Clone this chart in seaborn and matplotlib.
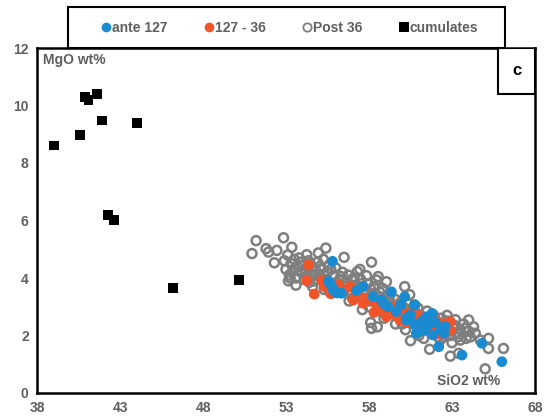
import numpy as np
import pandas as pd
import matplotlib
matplotlib.use('Agg')
import matplotlib.pyplot as plt
from matplotlib.patches import Rectangle
from matplotlib.lines import Line2D
import seaborn as sns

sns.set_style('white')
plt.rcParams['font.family'] = ['Liberation Sans', 'DejaVu Sans']

# ------------------------------------------------------------
# data (SiO2 wt%, MgO wt%)
# ------------------------------------------------------------
cum_sio2 = [39.0, 40.6, 40.9, 41.1, 41.6, 41.9, 44.0, 42.3, 42.65, 46.2, 50.15]
cum_mgo = [8.61, 8.96, 10.29, 10.2, 10.41, 9.48, 9.4, 6.18, 6.03, 3.66, 3.94]

post_sio2 = [50.95, 51.2, 51.8, 51.95, 52.3, 52.45, 52.85, 53.35, 53.15, 54.25, 54.95, 55.4,
             56.5, 58.15, 57.3, 57.85, 58.55, 59.05, 58.45, 58.8, 57.45, 58.1, 58.5, 58.15,
             60.15, 60.45, 60.75, 60.5, 61.65, 62.9, 63.4, 63.5, 64.0, 64.4, 64.7, 65.2,
             65.2, 66.1, 65.0, 62.7,
             52.9, 53.0, 53.1, 53.2, 53.3, 53.4, 53.5, 53.6, 53.7, 53.8, 53.9, 54.0, 54.1,
             54.2, 54.35, 54.5, 54.6, 54.7, 54.8, 54.9, 55.0, 55.1, 55.25, 55.4, 55.5, 55.6,
             55.75, 55.9, 56.0, 56.1, 56.25, 56.4, 56.5, 56.6, 56.75, 56.9, 57.0, 57.1,
             57.25, 57.4, 57.5, 57.65, 57.8, 57.9, 58.05, 58.2, 58.3, 58.45, 58.6, 58.7,
             58.85, 59.0, 59.1, 59.25, 59.4, 59.5, 59.6, 59.75, 59.9, 60.0, 60.15, 60.3,
             60.4, 60.55, 60.7, 60.85, 60.95, 61.1, 61.25, 61.4, 61.5, 61.65, 61.8, 61.9,
             62.05, 62.2, 62.35, 62.5, 62.6, 62.75, 62.9, 63.05, 63.2, 63.35, 63.5, 63.7,
             63.85, 64.0, 64.3, 61.0, 59.6, 58.9, 57.6, 56.8, 55.6, 54.6, 63.0, 62.3,
             61.3, 60.2,
             53.25, 53.55, 53.85, 54.15, 54.45, 54.75, 55.05, 55.35, 55.7, 56.05, 56.3, 56.6,
             56.95, 57.2, 57.55, 57.85, 58.1, 58.4, 58.65, 58.95, 59.2, 59.45, 59.7, 60.05,
             60.35, 60.65, 60.9, 61.2, 61.45, 61.75, 62.0, 62.25, 62.55, 62.85, 63.15, 63.45,
             63.75, 64.1, 57.0, 58.0, 59.0, 60.0, 61.15, 62.15, 56.2, 55.3, 54.4, 53.6]
post_mgo = [4.85, 5.3, 5.02, 4.9, 4.53, 4.96, 5.4, 5.07, 3.9, 4.81, 4.87, 5.04,
            4.72, 4.55, 4.22, 4.08, 4.05, 3.87, 3.93, 3.64, 4.3, 2.45, 2.3, 2.25,
            3.7, 3.42, 3.06, 1.82, 1.52, 1.28, 1.38, 1.84, 2.54, 2.08, 1.84, 1.55,
            1.9, 1.55, 0.84, 2.7,
            4.6, 4.3, 4.8, 4.1, 4.5, 4.25, 4.65, 4.0, 4.4, 4.7, 4.2, 4.45, 3.95,
            4.3, 4.6, 4.15, 4.4, 3.9, 4.25, 4.55, 4.05, 4.3, 4.65, 3.95, 4.2, 4.45,
            3.8, 4.1, 4.35, 3.65, 3.95, 4.2, 3.6, 3.85, 4.1, 3.5, 3.75, 4.0,
            3.4, 3.7, 3.95, 3.3, 3.55, 3.8, 3.2, 3.45, 3.7, 3.1, 3.35, 2.85,
            3.55, 3.2, 2.95, 3.4, 3.05, 2.75, 3.25, 2.9, 3.15, 2.6, 2.95, 2.7,
            3.1, 2.45, 2.8, 2.55, 2.95, 2.3, 2.65, 2.45, 2.85, 2.2, 2.5, 2.7,
            2.1, 2.4, 2.6, 1.95, 2.25, 2.5, 2.0, 2.3, 2.55, 1.95, 2.2, 2.4,
            1.9, 2.15, 2.3, 2.0, 2.4, 2.6, 2.9, 3.2, 3.55, 3.7, 1.75, 1.85,
            1.9, 2.2,
            4.0, 4.35, 4.55, 4.15, 4.5, 4.1, 4.4, 4.1, 4.3, 3.85, 4.05, 3.7,
            3.95, 3.6, 3.8, 3.45, 3.6, 3.25, 3.5, 3.0, 3.25, 2.9, 3.05, 2.8,
            2.9, 2.6, 2.75, 2.45, 2.6, 2.35, 2.55, 2.3, 2.45, 2.15, 2.35, 2.05,
            2.25, 1.95, 3.3, 3.0, 2.75, 2.4, 2.15, 1.95, 3.5, 3.6, 3.85, 3.75]

mid_sio2 = [54.35, 54.25, 54.7, 55.15, 55.3, 55.25, 56.15, 56.85, 57.05, 57.65, 58.15, 59.55,
            59.85, 60.55, 59.05, 60.05, 60.65, 62.1, 62.9, 62.9, 61.15, 56.5, 57.3, 58.5,
            58.8, 59.3, 60.3, 61.5, 61.9, 62.5, 61.0, 57.9, 56.0, 55.7, 60.9, 62.3,
            59.6, 58.3]
mid_mgo = [4.46, 3.91, 3.44, 3.91, 3.71, 3.87, 3.76, 3.7, 3.23, 3.12, 3.23, 3.0,
           2.54, 2.77, 2.65, 2.83, 2.6, 2.48, 2.48, 2.19, 2.42, 3.55, 3.45, 3.0,
           2.85, 2.9, 2.45, 2.35, 2.25, 2.4, 2.7, 3.3, 3.6, 3.45, 2.5, 2.05,
           2.7, 2.8]

ante_sio2 = [55.8, 55.55, 55.75, 56.05, 55.65, 55.85, 56.35, 57.25, 57.65, 58.25, 58.75, 59.35,
             60.15, 59.15, 59.65, 60.25, 60.75, 60.75, 60.25, 60.85, 61.45, 61.8, 61.35, 61.85,
             62.5, 62.6, 62.2, 63.6, 64.8, 66.0, 61.2, 61.6, 62.0, 60.5, 61.0, 62.3,
             59.9, 58.9]
ante_mgo = [4.58, 3.89, 3.71, 3.48, 3.82, 3.58, 3.47, 3.56, 3.7, 3.35, 3.23, 3.52,
            3.35, 3.0, 2.83, 2.6, 2.37, 3.06, 2.54, 2.08, 2.65, 2.77, 2.19, 2.02,
            2.08, 2.31, 1.61, 1.32, 1.73, 1.09, 2.5, 2.4, 2.45, 2.7, 2.3, 2.2,
            3.05, 3.1]

legend_labels = ['ante 127', '127 - 36', 'Post 36', 'cumulates']

BLUE = '#1a8bd0'
ORANGE = '#f0552a'
GREY = '#7f7f7f'
TXT = '#5f5f5f'

df_post = pd.DataFrame({'SiO2': post_sio2, 'MgO': post_mgo})
df_mid = pd.DataFrame({'SiO2': mid_sio2, 'MgO': mid_mgo})
df_ante = pd.DataFrame({'SiO2': ante_sio2, 'MgO': ante_mgo})
df_cum = pd.DataFrame({'SiO2': cum_sio2, 'MgO': cum_mgo})

fig = plt.figure(figsize=(5.47, 4.18), dpi=100)
ax = fig.add_axes([37 / 547, 25 / 418, 498 / 547, 345 / 418])

sns.scatterplot(data=df_post, x='SiO2', y='MgO', ax=ax, marker='o', s=42,
                facecolor='none', edgecolor=GREY, linewidth=1.8, zorder=2)
sns.scatterplot(data=df_mid, x='SiO2', y='MgO', ax=ax, marker='o', s=60,
                color=ORANGE, edgecolor='none', zorder=3)
sns.scatterplot(data=df_ante, x='SiO2', y='MgO', ax=ax, marker='o', s=60,
                color=BLUE, edgecolor='none', zorder=4)
sns.scatterplot(data=df_cum, x='SiO2', y='MgO', ax=ax, marker='s', s=50,
                color='black', edgecolor='none', zorder=5)

ax.set_xlim(38, 68)
ax.set_ylim(0, 12)
ax.set_xticks(np.arange(38, 69, 5))
ax.set_yticks(np.arange(0, 13, 2))
ax.set_xlabel('')
ax.set_ylabel('')
ax.tick_params(axis='both', length=0, labelsize=10, labelcolor=TXT, pad=6)
for lab in ax.get_xticklabels() + ax.get_yticklabels():
    lab.set_fontweight('bold')
for sp in ax.spines.values():
    sp.set_visible(True)
    sp.set_color('black')
    sp.set_linewidth(1.8)

ax.text(0.012, 0.985, 'MgO wt%', transform=ax.transAxes, ha='left', va='top',
        fontsize=10, fontweight='bold', color=TXT)
ax.text(0.93, 0.015, 'SiO2 wt%', transform=ax.transAxes, ha='right', va='bottom',
        fontsize=10, fontweight='bold', color=TXT)

# panel letter box
ax.add_patch(Rectangle((0.926, 0.868), 0.074, 0.132, transform=ax.transAxes,
                       facecolor='white', edgecolor='black', linewidth=1.5, zorder=6))
ax.text(0.963, 0.934, 'c', transform=ax.transAxes, ha='center', va='center',
        fontsize=12, fontweight='bold', color='black', zorder=7)

# legend: frame drawn separately so it can be wider than its content
fig.patches.append(Rectangle((68 / 547, 1 - 48 / 418), 437 / 547, 41 / 418,
                             transform=fig.transFigure, facecolor='white',
                             edgecolor='black', linewidth=1.5))
handles = [
    Line2D([], [], marker='o', ls='', color=BLUE, markersize=7, markeredgewidth=0),
    Line2D([], [], marker='o', ls='', color=ORANGE, markersize=7, markeredgewidth=0),
    Line2D([], [], marker='o', ls='', markerfacecolor='none', markeredgecolor=GREY,
           markersize=6, markeredgewidth=1.3),
    Line2D([], [], marker='s', ls='', color='black', markersize=6.5, markeredgewidth=0),
]
leg = fig.legend(handles, legend_labels,
                 loc='center', bbox_to_anchor=(290 / 547, 1 - 27.5 / 418), ncol=4,
                 frameon=False, handlelength=0.6, handletextpad=0.1,
                 columnspacing=2.7,
                 prop={'family': 'Liberation Sans', 'weight': 'bold', 'size': 10})
for t in leg.get_texts():
    t.set_color(TXT)

fig.savefig('out.png', dpi=100)
